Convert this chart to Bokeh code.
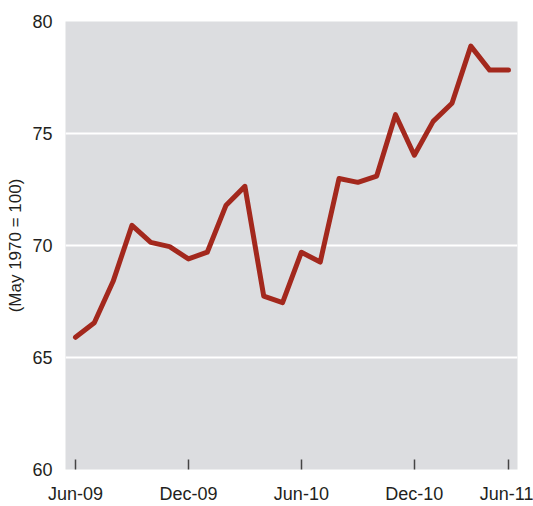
from bokeh.plotting import figure
from bokeh.models import Range1d, FixedTicker
from bokeh.embed import file_html
from bokeh.resources import INLINE

months = ["Jun-09", "Jul-09", "Aug-09", "Sep-09", "Oct-09", "Nov-09", "Dec-09",
          "Jan-10", "Feb-10", "Mar-10", "Apr-10", "May-10", "Jun-10", "Jul-10",
          "Aug-10", "Sep-10", "Oct-10", "Nov-10", "Dec-10", "Jan-11", "Feb-11",
          "Mar-11", "Apr-11", "May-11"]
index_values = [65.9, 66.55, 68.4, 70.9, 70.14, 69.95, 69.4, 69.7, 71.8, 72.64,
                67.74, 67.45, 69.7, 69.26, 72.99, 72.82, 73.1, 75.84, 74.03,
                75.54, 76.35, 78.9, 77.83, 77.83]
tick_positions = [0, 6, 12, 18, 23]
tick_labels = ["Jun-09", "Dec-09", "Jun-10", "Dec-10", "Jun-11"]
y_ticks = [60, 65, 70, 75, 80]

FONT = "Liberation Sans"

xs = list(range(len(index_values)))

p = figure(width=533, height=506, output_backend="svg", toolbar_location=None,
           x_range=Range1d(-0.53, 23.48), y_range=Range1d(60, 80),
           min_border_left=65, min_border_right=16, min_border_top=21,
           min_border_bottom=34, background_fill_color="#dcdde0",
           border_fill_color="white")
p.outline_line_color = None

p.line(xs, index_values, line_color="#a3281d", line_width=5,
       line_join="round", line_cap="round")

# x axis
p.xaxis.ticker = FixedTicker(ticks=tick_positions)
p.xaxis.major_label_overrides = {t: l for t, l in zip(tick_positions, tick_labels)}
p.xaxis.axis_line_color = None
p.xaxis.major_tick_in = 10
p.xaxis.major_tick_out = 0
p.xaxis.major_tick_line_color = "#444444"
p.xaxis.major_tick_line_width = 1.5
p.xaxis.minor_tick_line_color = None
p.xaxis.major_label_standoff = 14
p.xaxis.major_label_text_font = FONT
p.xaxis.major_label_text_font_size = "18px"
p.xaxis.major_label_text_color = "#231f20"

# y axis
p.yaxis.ticker = FixedTicker(ticks=y_ticks)
p.yaxis.axis_line_color = None
p.yaxis.major_tick_line_color = None
p.yaxis.minor_tick_line_color = None
p.yaxis.major_label_standoff = 7
p.yaxis.major_label_text_font = FONT
p.yaxis.major_label_text_font_size = "18px"
p.yaxis.major_label_text_color = "#231f20"
p.yaxis.axis_label = "(May 1970 = 100)"
p.yaxis.axis_label_text_font = FONT
p.yaxis.axis_label_text_font_size = "17px"
p.yaxis.axis_label_text_font_style = "normal"
p.yaxis.axis_label_text_color = "#231f20"
p.yaxis.axis_label_standoff = 4

p.xgrid.grid_line_color = None
p.ygrid.grid_line_color = "white"
p.ygrid.grid_line_width = 2

open("out.html", "w").write(file_html(p, INLINE))
